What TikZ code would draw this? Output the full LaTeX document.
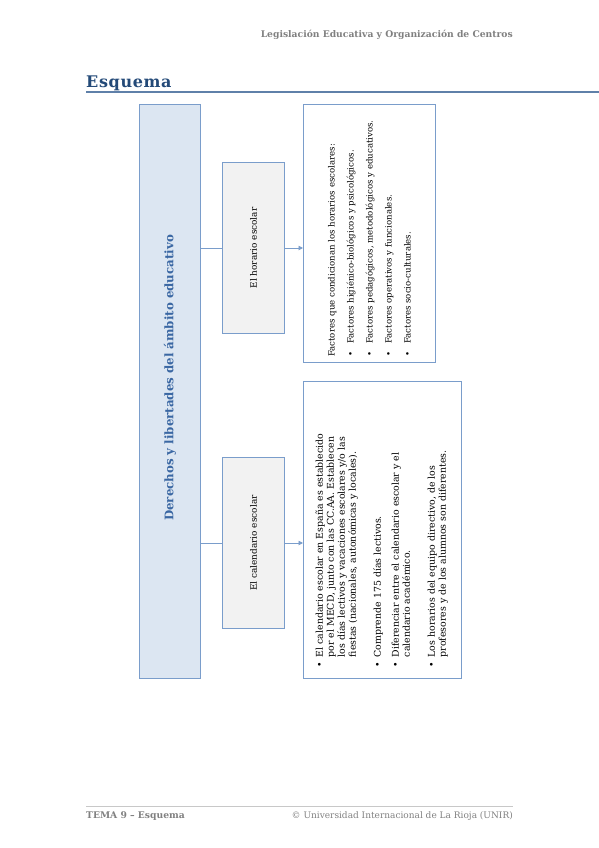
\documentclass[tikz,border=0pt]{standalone}
\usepackage{fontspec}
\setmainfont{DejaVu Serif}
\newfontfamily\titlefont[LetterSpace=4]{DejaVu Serif}
\usepackage{xcolor}
\usepackage{tikz}
\usetikzlibrary{arrows.meta}

\definecolor{boxline}{HTML}{7A9DCB}
\definecolor{mainfill}{HTML}{DCE6F2}
\definecolor{subfill}{HTML}{F2F2F2}
\definecolor{titleblue}{HTML}{244A78}
\definecolor{ruleblue}{HTML}{5F80A9}
\definecolor{maintext}{HTML}{3A67A3}
\definecolor{pagegray}{HTML}{808080}
\definecolor{footrule}{HTML}{C8C8C8}

\begin{document}
\begin{tikzpicture}[
    x=1pt, y=-1pt,
    mainbox/.style={draw=boxline, line width=1pt, fill=mainfill, anchor=north west, inner sep=0pt},
    subbox/.style={draw=boxline, line width=1pt, fill=subfill, anchor=north west, inner sep=0pt, minimum width=62pt, minimum height=171pt, font=\fontsize{8.9}{10}\selectfont},
    infobox/.style={draw=boxline, line width=1pt, fill=white, anchor=north west, inner sep=0pt},
    listtext/.style={rotate=90, anchor=north west, inner sep=0pt, align=left},
    pagetext/.style={inner sep=0pt, text=pagegray},
    link/.style={draw=boxline, line width=0.9pt},
    arrow/.style={link, -{Triangle[length=4.5pt, width=4.5pt]}}
]
\useasboundingbox (0,0) rectangle (599,848);

% page header and title
\node[pagetext, anchor=base east, font=\fontsize{9.2}{11}\selectfont\bfseries] (header) at (513,38) {Legislación Educativa y Organización de Centros};
\node[inner sep=0pt, anchor=base west, text=titleblue, font=\fontsize{16}{18}\selectfont\titlefont\bfseries] (title) at (86,88) {Esquema};
\coordinate (ruleL) at (86,92);
\coordinate (ruleR) at (599,92);
\draw[ruleblue, line width=1.6pt] (ruleL) -- (ruleR);

% boxes
\node[mainbox, minimum width=61pt, minimum height=574pt] (main) at (139,104) {};
\node[rotate=90, inner sep=0pt, text=maintext, font=\fontsize{11.8}{13}\selectfont\bfseries] (maintitle) at (170,378) {Derechos y libertades del ámbito educativo};

\node[subbox] (horario) at (222,162) {\rotatebox{90}{El horario escolar}};
\node[subbox] (calendario) at (222,457) {\rotatebox{90}{El calendario escolar}};

\node[infobox, minimum width=132pt, minimum height=258pt] (horinfo) at (303,104) {};
\node[infobox, minimum width=158pt, minimum height=297pt] (calinfo) at (303,381) {};

% connectors
\draw[link] (main.east |- horario.west) -- (horario.west);
\draw[arrow] (horario.east) -- (horinfo.west |- horario.east);
\draw[link] (main.east |- calendario.west) -- (calendario.west);
\draw[arrow] (calendario.east) -- (calinfo.west |- calendario.east);

% box texts
\node[listtext] (horlist) at (321,357) {\fontsize{8.6}{19}\selectfont
\begin{tabular}{@{}l@{\hspace{8pt}}l@{}}
\multicolumn{2}{@{}l@{}}{Factores que condicionan los horarios escolares:}\\
\textbullet & Factores higiénico-biológicos y psicológicos.\\
\textbullet & Factores pedagógicos, metodológicos y educativos.\\
\textbullet & Factores operativos y funcionales.\\
\textbullet & Factores socio-culturales.
\end{tabular}};

\node[listtext] (callist) at (315,668) {\fontsize{9.4}{11}\selectfont
\begin{tabular}{@{}l@{\hspace{5pt}}l@{}}
\textbullet & El calendario escolar en España es establecido\\
 & por el MECD, junto con las CC.AA. Establecen\\
 & los días lectivos y vacaciones escolares y/o las\\
 & fiestas (nacionales, autonómicas y locales).\\[14pt]
\textbullet & Comprende 175 días lectivos.\\[7pt]
\textbullet & Diferenciar entre el calendario escolar y el\\
 & calendario académico.\\[14pt]
\textbullet & Los horarios del equipo directivo, de los\\
 & profesores y de los alumnos son diferentes.
\end{tabular}};

% page footer
\coordinate (footL) at (86,806);
\coordinate (footR) at (513,806);
\draw[footrule, line width=1pt] (footL) -- (footR);
\node[pagetext, anchor=base west, font=\fontsize{9.2}{10}\selectfont\bfseries] (foottema) at (86,818) {TEMA 9 – Esquema};
\node[pagetext, anchor=base east, font=\fontsize{9}{10}\selectfont] (footunir) at (513,818) {© Universidad Internacional de La Rioja (UNIR)};
\end{tikzpicture}
\end{document}
